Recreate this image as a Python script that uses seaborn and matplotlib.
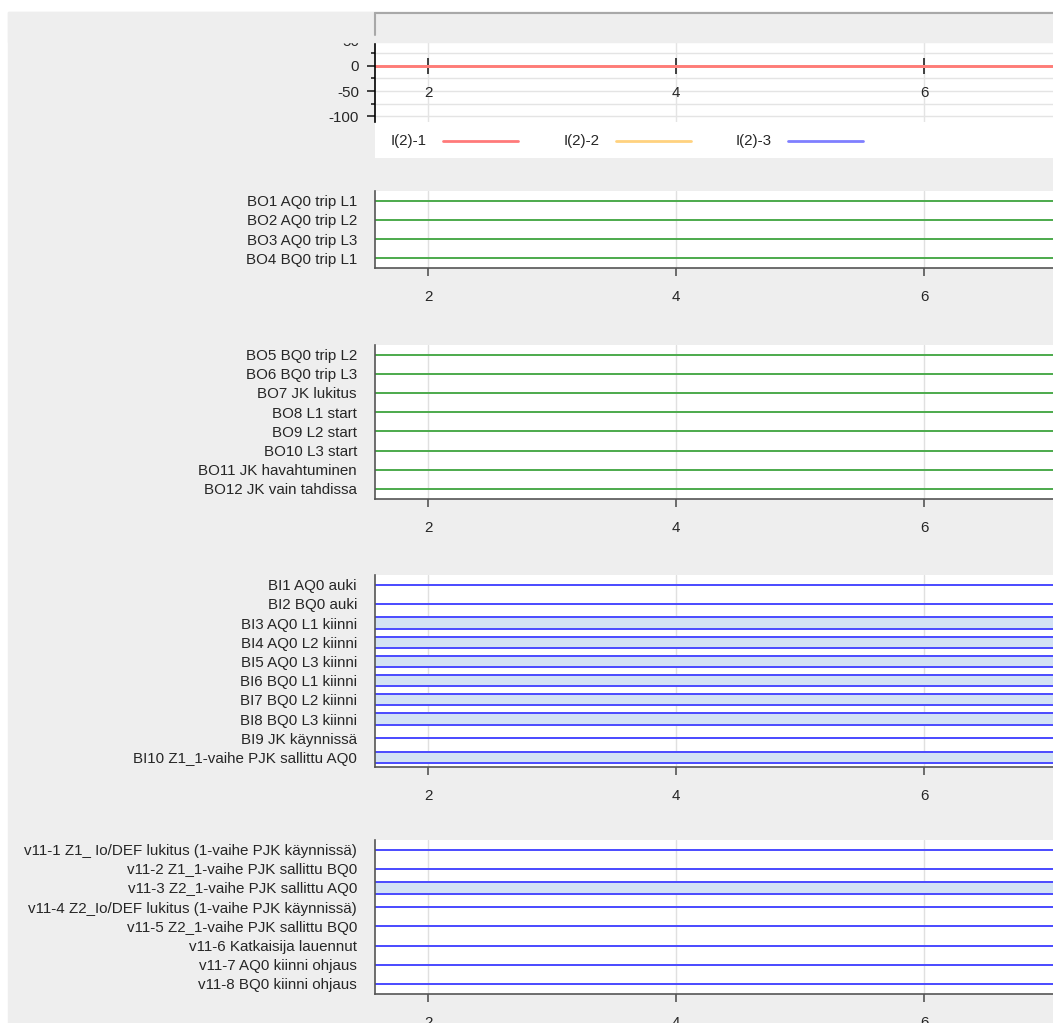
import numpy as np
import pandas as pd
import seaborn as sns
import matplotlib.pyplot as plt
from matplotlib.patches import Rectangle
from matplotlib.lines import Line2D
from matplotlib.ticker import MultipleLocator

# Analog channels (time in s)
time_s = [1.5, 3.0, 4.5, 6.0, 7.5]
i2_1 = [0, 0, 0, 0, 0]
i2_2 = [0, 0, 0, 0, 0]
i2_3 = [0, 0, 0, 0, 0]
analog_names = ["I(2)-1", "I(2)-2", "I(2)-3"]
analog_colors = ["#ff7a7a", "#ffd27f", "#7f7fff"]
time_ticks = [2, 4, 6]

# Digital channels
bo_a_names = ["BO1 AQ0 trip L1", "BO2 AQ0 trip L2", "BO3 AQ0 trip L3", "BO4 BQ0 trip L1"]
bo_a_state = [0, 0, 0, 0]

bo_b_names = ["BO5 BQ0 trip L2", "BO6 BQ0 trip L3", "BO7 JK lukitus", "BO8 L1 start",
              "BO9 L2 start", "BO10 L3 start", "BO11 JK havahtuminen", "BO12 JK vain tahdissa"]
bo_b_state = [0, 0, 0, 0, 0, 0, 0, 0]

bi_names = ["BI1 AQ0 auki", "BI2 BQ0 auki", "BI3 AQ0 L1 kiinni", "BI4 AQ0 L2 kiinni",
            "BI5 AQ0 L3 kiinni", "BI6 BQ0 L1 kiinni", "BI7 BQ0 L2 kiinni", "BI8 BQ0 L3 kiinni",
            "BI9 JK käynnissä", "BI10 Z1_1-vaihe PJK sallittu AQ0"]
bi_state = [0, 0, 1, 1, 1, 1, 1, 1, 0, 1]

v11_names = ["v11-1 Z1_ Io/DEF lukitus (1-vaihe PJK käynnissä)", "v11-2 Z1_1-vaihe PJK sallittu BQ0",
             "v11-3 Z2_1-vaihe PJK sallittu AQ0", "v11-4 Z2_Io/DEF lukitus (1-vaihe PJK käynnissä)",
             "v11-5 Z2_1-vaihe PJK sallittu BQ0", "v11-6 Katkaisija lauennut",
             "v11-7 AQ0 kiinni ohjaus", "v11-8 BQ0 kiinni ohjaus"]
v11_state = [0, 0, 1, 0, 0, 0, 0, 0]

W, H = 1053, 1023
XLIM = (1.573, 7.04)
BG = "#eeeeee"
TXT = "#262626"
FS = 10.9

sns.set_theme(style="white")
plt.rcParams['font.family'] = ['Liberation Sans', 'DejaVu Sans']
plt.rcParams['font.size'] = FS
plt.rcParams['axes.unicode_minus'] = False

fig = plt.figure(figsize=(W / 100, H / 100), dpi=100, facecolor="white")


def px_axes(x0, y0, x1, y1):
    return fig.add_axes([x0 / W, 1 - y1 / H, (x1 - x0) / W, (y1 - y0) / H])


def fig_px(x, y):
    return x / W, 1 - y / H


# grey background panel
fig.add_artist(Rectangle(fig_px(8, 1023), (W - 8) / W, (1023 - 12) / H,
                         transform=fig.transFigure, color=BG, zorder=-1))

# legend strip (below the analog plot)
lg = px_axes(375, 122, 1053, 158)
lg.set_xlim(375, 1053)
lg.set_ylim(158, 122)
lg.set_xticks([])
lg.set_yticks([])
for s in lg.spines.values():
    s.set_visible(False)
lg.set_facecolor("white")
for k, (name, col) in enumerate(zip(analog_names, analog_colors)):
    x0 = 391 + k * 172.5
    lg.text(x0, 141, name, ha="left", va="center", fontsize=FS, color=TXT)
    lg.plot([x0 + 52, x0 + 127], [141, 141], color=col, lw=2)

# ---- analog panel
ax = px_axes(375, 36, 1053, 122)
ax.set_zorder(3)
df = pd.DataFrame({
    "t": time_s * 3,
    "v": i2_1 + i2_2 + i2_3,
    "ch": [n for n in analog_names for _ in time_s],
})
sns.lineplot(data=df, x="t", y="v", hue="ch", hue_order=analog_names[::-1],
             palette=dict(zip(analog_names, analog_colors)), legend=False,
             linewidth=2, ax=ax)
ax.set_xlim(XLIM)
ax.set_ylim(-111, 59)
ax.set_xticks(time_ticks)
ax.set_xticklabels([])
ax.yaxis.set_major_locator(MultipleLocator(50))
ax.yaxis.set_minor_locator(MultipleLocator(25))
ax.grid(True, which="both", axis="y", color="#e4e4e4", lw=1)
ax.grid(True, which="major", axis="x", color="#e4e4e4", lw=1)
ax.set_axisbelow(True)
for s in ["top", "right"]:
    ax.spines[s].set_visible(False)
ax.spines["left"].set_color("black")
ax.spines["left"].set_linewidth(1.2)
ax.spines["bottom"].set_position(("data", 0))
ax.spines["bottom"].set_color("none")
ax.tick_params(axis="x", direction="inout", length=11.5, width=1.2, color="#222222",
               bottom=True)
ax.tick_params(axis="y", which="major", direction="out", length=6, width=1.2,
               color="#222222", pad=5.5, labelsize=FS, labelcolor=TXT, left=True)
ax.tick_params(axis="y", which="minor", direction="out", length=3, width=1.2,
               color="#222222", left=True)
# time labels sit under the zero line
for t in time_ticks:
    ax.text(t, -54, str(t), ha="center", va="center", fontsize=FS, color=TXT,
            clip_on=False, zorder=10)
ax.set_xlabel("")
ax.set_ylabel("")

# ---- digital panels
ROW = 19.2
panels = [
    (bo_a_names, bo_a_state, 191, "#4caa4c", None),
    (bo_b_names, bo_b_state, 345, "#4caa4c", None),
    (bi_names, bi_state, 575, "#4a4aff", "#d3e2f4"),
    (v11_names, v11_state, 840, "#4a4aff", "#d3e2f4"),
]
for names, states, top, col, fill in panels:
    n = len(names)
    ax = px_axes(375, top, 1053, top + ROW * n)
    for i, st in enumerate(states):
        if st:
            ax.fill_between(time_s, i - 0.29, i + 0.29, color=fill, lw=0)
            ax.plot(time_s, [i - 0.29] * len(time_s), color=col, lw=1.4)
            ax.plot(time_s, [i + 0.29] * len(time_s), color=col, lw=1.4)
        else:
            ax.plot(time_s, [i] * len(time_s), color=col, lw=1.4)
    ax.set_xlim(XLIM)
    ax.set_ylim(n - 0.5, -0.5)
    ax.set_yticks(range(n))
    ax.set_yticklabels(names)
    ax.xaxis.set_major_locator(MultipleLocator(2))
    ax.grid(True, axis="x", color="#e0e0e0", lw=1)
    ax.set_axisbelow(True)
    for s in ["top", "right"]:
        ax.spines[s].set_visible(False)
    for s in ["left", "bottom"]:
        ax.spines[s].set_color("#555555")
        ax.spines[s].set_linewidth(1.2)
    ax.tick_params(axis="y", length=0, pad=13, labelsize=FS, labelcolor=TXT)
    ax.tick_params(axis="x", direction="out", length=5.5, width=1.2, color="#555555",
                   pad=10.5, labelsize=FS, labelcolor=TXT, bottom=True)

# top frame (clips the analog panel's upper label)
fig.add_artist(Rectangle(fig_px(8, 42), (W - 8) / W, 30 / H,
                         transform=fig.transFigure, color=BG, zorder=4))
fig.add_artist(Line2D([375 / W, 1], [1 - 12.5 / H] * 2, transform=fig.transFigure,
                      color="#a8a8a8", lw=1.5, zorder=5))
fig.add_artist(Line2D([375 / W] * 2, [1 - 12.5 / H, 1 - 35 / H], transform=fig.transFigure,
                      color="#a8a8a8", lw=1.5, zorder=5))

fig.savefig("out.png", dpi=100, facecolor="white")
